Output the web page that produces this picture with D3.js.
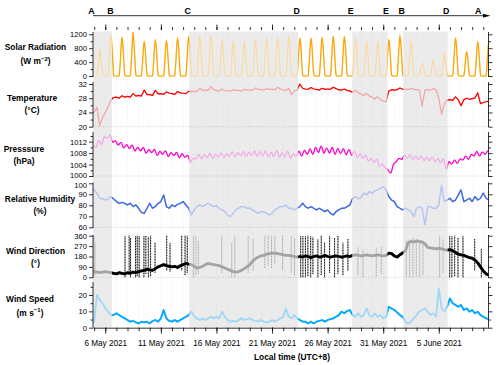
<!DOCTYPE html>
<html>
<head>
<meta charset="utf-8">
<script src="https://cdn.jsdelivr.net/npm/d3@7"></script>
<style>
body { margin:0; background:#fff; }
svg text { font-family: "Liberation Sans", Arial, sans-serif; fill:#000; }
</style>
</head>
<body>
<div id="chart"></div>
<script>
// ---------- data ----------
// 6-hourly series, first value at 4 May 2021 18:00 local time
var temperature = [24.0,
 24.0,25.5,20.3,22.5, 24.0,25.5,27.5,28.2, 28.3,28.0,28.7,28.3, 28.5,28.3,29.3,28.6,
 28.8,28.6,30.3,29.0, 29.0,28.8,30.2,29.2, 29.3,29.1,29.8,29.4, 29.3,29.1,29.9,29.5,
 29.4,29.3,30.0,29.8, 30.0,29.9,30.8,30.2, 30.3,30.2,31.3,30.4, 30.2,30.0,30.6,30.1,
 30.1,30.0,30.4,30.2, 30.2,30.0,30.5,30.3, 30.3,30.2,30.9,30.5, 30.4,30.3,30.7,30.5,
 30.5,30.4,31.1,30.6, 30.3,30.2,30.8,29.0, 30.0,30.3,32.0,30.8, 30.6,30.5,31.0,30.6,
 30.5,30.3,30.8,30.5, 30.6,30.5,31.1,30.7, 30.4,30.3,30.6,30.2, 30.0,29.7,30.2,29.5,
 29.2,28.8,29.4,28.6, 28.3,27.8,28.4,27.6, 27.2,27.0,30.0,30.4, 30.3,30.4,30.9,30.5,
 30.5,30.4,30.8,30.5, 30.4,30.3,25.8,30.3, 30.4,30.3,30.7,30.4, 28.0,23.5,26.5,27.5,
 27.6,27.4,28.4,27.6, 25.9,27.6,28.0,27.7, 27.9,28.1,29.5,26.5, 26.8,27.0,27.2];

var humidity = [95.6,
 94,91,86.4,85.8, 84.8,85.8,88,85.8, 83.4,81.8,82.7,81.8, 80.3,81.8,78.8,80.3,
 77.3,73.6,72.7,77.3, 81.8,77.3,78.8,81.8, 83.4,89.4,78.8,77.3, 80.3,78.8,80.9,81.8,
 83.4,80.3,77.3,71.2, 75.8,78.8,80.3,78.8, 80.3,81.8,80.3,78.8, 79.7,77.3,75.8,74.2,
 71.2,69.7,72.7,75.8, 77.3,78.8,78.8,77.3, 77.3,75.8,74.2,72.7, 74.2,74.2,72.7,71.2,
 72.7,75.8,77.3,78.8, 78.8,80.3,77.3,77.3, 75.8,77.3,78.8,81.8, 78.8,77.3,78.8,77.3,
 75.8,77.3,75.8,74.2, 75.8,72.7,71.2,74.2, 75.8,77.3,77.3,78.8, 80.3,86.4,88,85.8,
 87,91,89.4,92.5, 91,93.1,94,95.6, 97.1,94,88,84.8, 83.4,78.8,77.3,75.8,
 77.3,75.8,74.2,69.7, 77.3,78.8,77.3,62.2, 78.8,78.8,77.3,77.3, 80.3,98,83.4,84.8,
 86.4,83.4,84.8,89.4, 94,83.4,84.8,86.4, 83.4,88,84.8,86.4, 91,86.4,84.8];

var windSpeed = [1.6,
 3.7,20,17,15, 11.8,9.8,7.7,7.7, 8.8,7.7,6.7,5.7, 4.7,3.7,4.1,3.3,
 2.6,3.7,3.3,3.7, 2.6,4.1,4.7,3.7, 5.7,10.8,5.7,4.1, 3.7,4.7,3.7,4.7,
 5.7,6.7,7.7,9.8, 6.7,5.7,4.7,5.7, 4.7,5.7,6.7,5.7, 6.7,5.7,9.8,6.7,
 4.7,3.7,4.1,3.7, 4.7,5.7,4.7,5.3, 5.7,4.7,4.1,3.7, 4.7,3.7,3.3,3.7,
 4.7,3.7,4.7,5.7, 6.7,11.8,6.7,5.7, 7.7,5.7,4.7,3.7, 3.7,2.6,3.7,2.6,
 3.7,4.1,4.7,3.7, 4.7,5.3,5.7,6.7, 7.7,9.8,8.8,10.2, 10.8,7.7,6.7,8.8,
 6.7,7.7,11.8,7.7, 6.7,8.8,6.7,7.7, 5.7,6.7,12.8,11.8, 10.8,9.4,7.7,6.7,
 3.7,2.6,3.7,5.7, 7.7,9.8,10.8,11.8, 9.8,7.7,8.8,6.7, 24,12,9.8,12.8,
 17.9,14.9,13.9,12.8, 13.9,10.8,11.8,9.8, 10.8,8.8,9.8,7.7, 6.7,5.7,5.3];

var windDir = [60,
 50,45,40,45, 50,45,40,35, 30,40,35,30, 40,35,45,40,
 50,55,60,70, 65,60,75,90, 100,110,100,95, 90,95,85,100,
 110,120,115,110, 95,80,85,95, 110,120,115,110, 105,100,90,80,
 70,60,50,45, 50,60,75,90, 110,140,160,175, 185,190,200,205,
 210,210,205,200, 195,190,190,185, 180,175,180,175, 185,180,170,180,
 185,175,180,190, 180,175,180,185, 180,175,180,185, 180,190,195,190,
 185,190,195,190, 185,190,195,190, 185,190,210,205, 185,175,195,210,
 230,300,310,305, 315,310,305,290, 260,255,250,245, 250,245,240,235,
 240,230,215,200, 195,190,180,170, 165,150,125,90, 55,30,20];

// scattered wind direction readings: [6-h index, low, high]
var windDirStreaks = [
 [0.9,0,360],[1.3,20,300],[12.1,0,360],[13.6,20,360],[14.1,0,340],[15.9,0,360],
 [16.5,10,360],[17.2,0,360],[18.9,0,360],[19.6,30,360],[20.5,0,350],[21.3,10,360],
 [22.9,40,300],[27.1,60,360],[28.3,50,300],[32.5,60,360],[33.7,20,360],[34.5,40,360],
 [36.7,0,360],[37.6,20,360],[38.5,30,320],[46.9,40,360],[50.5,0,300],[51.6,0,360],
 [56.4,40,360],[58.2,60,330],[62.4,80,360],[63.6,100,360],[64.8,80,360],[66.0,120,360],
 [68.8,60,360],[71.9,40,360],[73.1,20,340],[75.3,0,360],[76.1,0,360],[77.0,0,360],
 [77.9,10,360],[78.9,0,360],[79.7,30,350],[81.5,0,330],[82.7,20,360],[83.9,0,300],
 [85.7,40,360],[87.5,0,340],[88.7,30,360],[90.5,20,300],[92.3,60,330],[95.9,20,260],
 [97.7,0,240],[102.5,10,250],[104.3,30,260],[113.3,0,320],[114.5,0,330],[115.7,0,340],
 [116.9,10,330],[118.1,0,320],[119.3,20,300],[125.3,0,360],[126.5,40,330],[128.9,0,360],
 [129.7,0,360],[130.7,10,360],[131.9,0,340],[133.7,0,360],[137.9,60,330],[140.3,0,250]];

// pressure at 04, 10, 16, 22 h, first value at 4 May 22:00
var pressure = [1010.5,
 1010.0,1012.5,1011.0,1013.8, 1013.2,1014.3,1011.8,1012.3, 1010.8,1011.8,1009.8,1011.0,
 1009.6,1010.8,1008.8,1010.0, 1008.8,1010.0,1008.0,1009.2, 1008.2,1009.3,1007.2,1008.6,
 1007.6,1008.8,1006.8,1008.2, 1007.2,1008.3,1006.4,1007.8, 1006.6,1007.2,1004.8,1006.2,
 1006.0,1007.6,1006.0,1007.4, 1006.4,1008.0,1006.2,1007.6, 1006.6,1008.2,1006.4,1007.8,
 1006.8,1008.5,1006.6,1008.2, 1007.0,1008.6,1006.8,1008.4, 1007.2,1008.8,1006.8,1008.5,
 1007.0,1008.8,1006.6,1008.3, 1006.8,1009.0,1006.5,1008.2, 1006.7,1008.6,1006.2,1007.8,
 1006.8,1008.7,1007.0,1009.0, 1007.6,1009.5,1007.6,1010.0, 1008.2,1010.5,1008.0,1009.8,
 1008.0,1010.0,1007.6,1009.6, 1007.8,1009.6,1007.4,1009.2, 1007.2,1008.6,1006.4,1007.8,
 1006.2,1007.4,1005.2,1006.2, 1004.8,1005.8,1003.4,1004.2, 1002.8,1002.2,1001.0,1004.0,
 1005.0,1006.2,1005.8,1007.3, 1006.2,1007.4,1005.8,1007.0, 1005.8,1007.0,1005.4,1006.6,
 1005.4,1006.6,1005.0,1006.2, 1004.6,1006.0,1002.5,1005.0, 1004.2,1005.6,1004.4,1006.0,
 1005.6,1007.0,1005.8,1007.6, 1007.0,1008.6,1007.0,1008.4, 1007.6,1008.8,1008.0];

// solar radiation, one row per day from 5 May, at these hours
var solarHours = [5,6,8,10,12,14,16,18,19];
var solarRows = [
 [0,8,220,520,780,560,300,30,0],
 [0,12,360,860,1190,950,480,45,0],
 [0,11,330,800,1110,890,440,45,0],
 [0,12,360,860,1280,920,470,45,0],
 [0,10,300,720,1000,800,400,40,0],
 [0,10,315,760,1050,840,420,40,0],
 [0,10,305,735,1020,815,410,40,0],
 [0,11,330,790,1100,880,440,45,0],
 [0,11,340,820,1140,910,455,45,0],
 [0,11,340,820,1140,910,455,45,0],
 [0,12,350,840,1170,935,470,45,0],
 [0,10,315,760,1050,840,420,40,0],
 [0,10,300,720,1000,800,400,40,0],
 [0,10,300,720,1000,800,400,40,0],
 [0,10,315,760,1050,840,420,40,0],
 [0,11,330,790,1100,880,440,45,0],
 [0,11,330,790,1100,880,440,45,0],
 [0,11,340,820,1140,910,455,45,0],
 [0,11,330,790,1100,880,440,45,0],
 [0,11,330,790,1100,880,440,45,0],
 [0,11,335,800,1110,890,445,45,0],
 [0,11,340,820,1140,910,455,45,0],
 [0,11,340,820,1140,910,455,45,0],
 [0,11,325,785,1090,870,435,45,0],
 [0,10,300,720,1000,800,400,40,0],
 [0,10,300,720,1000,800,400,40,0],
 [0,10,315,760,1050,840,420,40,0],
 [0,12,350,840,1170,935,470,45,0],
 [0,10,300,720,1000,800,400,40,0],
 [0,5,110,270,375,300,150,15,0],
 [0,5,140,340,470,375,190,20,0],
 [0,7,200,480,680,420,220,25,0],
 [0,11,330,790,1100,880,440,45,0],
 [0,7,210,500,700,560,280,30,0],
 [0,10,300,720,1000,800,400,40,0],
 [0,10,300,720,1000,800,400,40,0]];

// observation periods
var startTime = new Date(2021,4,4,21,30);
var endTime = new Date(2021,5,9,11,15);
var shadedFrom = [startTime, new Date(2021,4,13,13,12), new Date(2021,4,28,5,0), new Date(2021,5,1,19,12)];
var shadedTo = [new Date(2021,4,6,14,24), new Date(2021,4,23,8,24), new Date(2021,4,31,9,20), new Date(2021,5,5,19,12)];
var periodLetters = ["A","B","C","D","E","E","B","D","A"];
var periodTimes = [startTime, new Date(2021,4,6,14,24), new Date(2021,4,13,13,12), new Date(2021,4,23,8,24),
  new Date(2021,4,28,5,0), new Date(2021,4,31,9,20), new Date(2021,5,1,19,12), new Date(2021,5,5,19,12), new Date(2021,5,8,16)];
var majorDates = [new Date(2021,4,6), new Date(2021,4,11), new Date(2021,4,16), new Date(2021,4,21),
  new Date(2021,4,26), new Date(2021,4,31), new Date(2021,5,5)];

// ---------- drawing ----------
var HOUR = 3600e3;
var t6 = function(i){ return new Date(new Date(2021,4,4,18).getTime() + i*6*HOUR); };
var tp = function(j){ return new Date(new Date(2021,4,4,22).getTime() + j*6*HOUR); };

var svg = d3.select("#chart").append("svg").attr("width",500).attr("height",365);
var defs = svg.append("defs");

var left = 93, right = 488.5, plotTop = 31.5, plotBottom = 327.7;
var x = d3.scaleTime().domain([startTime,endTime]).range([left,right]);

// shaded periods
svg.append("g").selectAll("rect")
 .data(shadedFrom)
 .enter().append("rect")
 .attr("x", function(d){ return x(d); })
 .attr("width", function(d,i){ return x(shadedTo[i]) - x(d); })
 .attr("y", plotTop).attr("height", plotBottom-plotTop)
 .attr("fill","#ebebeb");

// daily faint grid
svg.append("g").selectAll("line")
 .data(d3.timeDay.range(d3.timeDay.ceil(startTime), endTime))
 .enter().append("line")
 .attr("x1", function(d){ return x(d); }).attr("x2", function(d){ return x(d); })
 .attr("y1", plotTop).attr("y2", plotBottom)
 .attr("stroke","#d6d6d6").attr("stroke-width",0.5).attr("stroke-dasharray","1,1.5").attr("opacity",0.7);

// clip for the non-shaded (strong colour) periods
var whiteFrom = [shadedTo[0], shadedTo[1], shadedTo[2], shadedTo[3]];
var whiteTo = [shadedFrom[1], shadedFrom[2], shadedFrom[3], endTime];
var wc = defs.append("clipPath").attr("id","whiteClip");
whiteFrom.forEach(function(d,i){
  wc.append("rect").attr("x",x(d)).attr("width",x(whiteTo[i])-x(d)).attr("y",0).attr("height",365);
});

var panels = [
 {key:"solar", top:32, bottom:77, dom:[0,1200], rng:[76,34.3], major:[0,400,800,1200], minor:[200,600,1000],
  t1:"Solar Radiation", t2:["(W m","\u22122",")"], cx:35.5, ty:[50,64], dotted:false},
 {key:"temp", top:82, bottom:127, dom:[20,32], rng:[126.7,84], major:[20,24,28,32], minor:[22,26,30],
  t1:"Temperature", t2:["(\u00B0C)"], cx:32, ty:[101,112.5], dotted:true},
 {key:"pres", top:132, bottom:177, dom:[1000,1012], rng:[176,141.7], major:[1000,1004,1008,1012], minor:[1002,1006,1010,1014],
  t1:"Presssure", t2:["(hPa)"], cx:24, ty:[152,163.5], dotted:true},
 {key:"rh", top:182.5, bottom:228, dom:[60,100], rng:[227.3,183.3], major:[60,70,80,90,100], minor:[],
  t1:"Relative Humidity", t2:["(%)"], cx:40, ty:[202,213.5], dotted:true},
 {key:"wd", top:235, bottom:278, dom:[0,360], rng:[277.3,235.7], major:[0,90,180,270,360], minor:[],
  t1:"Wind Direction", t2:["(\u00B0)"], cx:35.5, ty:[254,265.5], dotted:true},
 {key:"ws", top:282, bottom:327.7, dom:[0,20], rng:[327.7,295], major:[0,10,20], minor:[5,15,25],
  t1:"Wind Speed", t2:["(m s","\u22121",")"], cx:30, ty:[302,315.5], dotted:false}
];

var colors = {
 solar:["#fad9a0","#ffa500"], temp:["#f3a3a3","#ff0000"], pres:["#f2a6e8","#ff00cc"],
 rh:["#b3c3f3","#4169e1"], wd:["#a3a3a3","#000000"], ws:["#9fd8f4","#00a9ff"]
};

panels.forEach(function(p){
  p.y = d3.scaleLinear().domain(p.dom).range(p.rng);
  defs.append("clipPath").attr("id","clip-"+p.key)
    .append("rect").attr("x",left).attr("y",p.top).attr("width",right-left).attr("height",p.bottom-p.top);
});

function drawSeries(p, pts, width, curve){
  var line = d3.line().x(function(d){ return x(d.t); }).y(function(d){ return p.y(d.v); }).curve(curve || d3.curveLinear);
  var g = svg.append("g").attr("clip-path","url(#clip-"+p.key+")");
  g.append("path").datum(pts).attr("d",line).attr("fill","none")
   .attr("stroke",colors[p.key][0]).attr("stroke-width",width).attr("stroke-linejoin","round");
  g.append("g").attr("clip-path","url(#whiteClip)")
   .append("path").datum(pts).attr("d",line).attr("fill","none")
   .attr("stroke",colors[p.key][1]).attr("stroke-width",width).attr("stroke-linejoin","round");
  return g;
}

// dotted base lines
panels.filter(function(p){ return p.dotted; }).forEach(function(p){
  svg.append("line").attr("x1",left).attr("x2",right)
   .attr("y1",p.y(p.dom[0])).attr("y2",p.y(p.dom[0]))
   .attr("stroke","#b0b0b0").attr("stroke-width",0.6).attr("stroke-dasharray","1,1.5");
});

// solar radiation
var solarPts = [];
solarRows.forEach(function(row,k){
  row.forEach(function(v,h){ solarPts.push({t:new Date(2021,4,5+k,solarHours[h]), v:v}); });
});
drawSeries(panels[0], solarPts, 1.2, d3.curveMonotoneX);

drawSeries(panels[1], temperature.map(function(v,i){ return {t:t6(i), v:v}; }), 1.2);
drawSeries(panels[2], pressure.map(function(v,j){ return {t:tp(j), v:v}; }), 1.2, d3.curveMonotoneX);
drawSeries(panels[3], humidity.map(function(v,i){ return {t:t6(i), v:v}; }), 1.4);

// wind direction: scatter streaks + central band
var wdP = panels[4];
var wdG = svg.append("g").attr("clip-path","url(#clip-wd)");
[0,1].forEach(function(k){
  var gg = wdG.append("g");
  if(k==1) gg.attr("clip-path","url(#whiteClip)");
  gg.selectAll("line").data(windDirStreaks).enter().append("line")
   .attr("x1",function(d){ return x(t6(d[0])); }).attr("x2",function(d){ return x(t6(d[0])); })
   .attr("y1",function(d){ return wdP.y(d[1]); }).attr("y2",function(d){ return wdP.y(d[2]); })
   .attr("stroke",colors.wd[k]).attr("stroke-width",1).attr("stroke-dasharray","1,0.6");
});
drawSeries(wdP, windDir.map(function(v,i){ return {t:t6(i), v:v}; }), 2.8);

drawSeries(panels[5], windSpeed.map(function(v,i){ return {t:t6(i), v:v}; }), 1.8);

// axes
panels.forEach(function(p){
  [left,right].forEach(function(ax){
    var isLeft = ax==left;
    svg.append("line").attr("x1",ax).attr("x2",ax).attr("y1",p.top).attr("y2",p.bottom)
     .attr("stroke","#000").attr("stroke-width",0.8);
    var g = svg.append("g").attr("transform","translate("+ax+",0)")
     .call((isLeft ? d3.axisLeft(p.y) : d3.axisRight(p.y)).tickValues(p.major).tickSize(4).tickSizeOuter(0).tickPadding(2)
       .tickFormat(isLeft ? d3.format("d") : ""));
    g.select(".domain").remove();
    g.selectAll("line").attr("stroke-width",0.8);
    g.selectAll("text").style("font-size","7.6px");
    // keep the touching "1000" / "100" labels apart
    if(isLeft && p.key=="pres") g.selectAll("text").filter(function(d){ return d==1000; }).attr("y",-1.3);
    if(isLeft && p.key=="rh") g.selectAll("text").filter(function(d){ return d==100; }).attr("y",1.3);
    var gm = svg.append("g").attr("transform","translate("+ax+",0)")
     .call((isLeft ? d3.axisLeft(p.y) : d3.axisRight(p.y)).tickValues(p.minor).tickSize(2.5).tickFormat(""));
    gm.select(".domain").remove();
    gm.selectAll("line").attr("stroke-width",0.8);
  });

  var title = svg.append("text").attr("text-anchor","middle").style("font-weight","bold").style("font-size","8.4px");
  title.append("tspan").attr("x",p.cx).attr("y",p.ty[0]).text(p.t1);
  var t2 = svg.append("text").attr("text-anchor","middle").attr("x",p.cx).attr("y",p.ty[1])
    .style("font-weight","bold").style("font-size","8.4px");
  t2.append("tspan").text(p.t2[0]);
  if(p.t2.length>1){
    t2.append("tspan").attr("dy",-3.5).style("font-size","6px").text(p.t2[1]);
    t2.append("tspan").attr("dy",3.5).text(p.t2[2]);
  }
});

// bottom axis
var xb = svg.append("g").attr("transform","translate(0,"+plotBottom+")")
 .call(d3.axisBottom(x).tickValues(majorDates).tickSize(6).tickSizeOuter(0).tickPadding(6)
   .tickFormat(d3.timeFormat("%-d %B %Y")));
xb.select(".domain").attr("stroke-width",0.8);
xb.selectAll("line").attr("stroke-width",0.8);
xb.selectAll("text").style("font-size","8.2px");
var xm = svg.append("g").attr("transform","translate(0,"+plotBottom+")")
 .call(d3.axisBottom(x).ticks(d3.timeDay.every(1)).tickSize(3.5).tickSizeOuter(0).tickFormat(""));
xm.select(".domain").remove();
xm.selectAll("line").attr("stroke-width",0.8);

// top ticks
var xt = svg.append("g").attr("transform","translate(0,30)")
 .call(d3.axisTop(x).tickValues(majorDates).tickSize(5.5).tickSizeOuter(0).tickFormat(""));
xt.select(".domain").remove();
xt.selectAll("line").attr("stroke-width",0.8);
var xtm = svg.append("g").attr("transform","translate(0,30)")
 .call(d3.axisTop(x).ticks(d3.timeDay.every(1)).tickSize(3).tickSizeOuter(0).tickFormat(""));
xtm.select(".domain").remove();
xtm.selectAll("line").attr("stroke-width",0.8);

svg.append("text").attr("x",292).attr("y",359.5).attr("text-anchor","middle")
 .style("font-weight","bold").style("font-size","8.4px").text("Local time (UTC+8)");

// period arrow
svg.append("line").attr("x1",left).attr("x2",484).attr("y1",15.7).attr("y2",15.7)
 .attr("stroke","#000").attr("stroke-width",0.8);
svg.append("path").attr("d","M483,13.8L490.5,15.7L483,17.6Z").attr("fill","#000");
svg.append("g").selectAll("text").data(periodLetters).enter().append("text")
 .attr("x",function(d,i){ return x(periodTimes[i]) - 1.5; })
 .attr("y",13.5).attr("text-anchor","middle")
 .style("font-weight","bold").style("font-size","8.8px")
 .text(function(d){ return d; });
</script>
</body>
</html>
